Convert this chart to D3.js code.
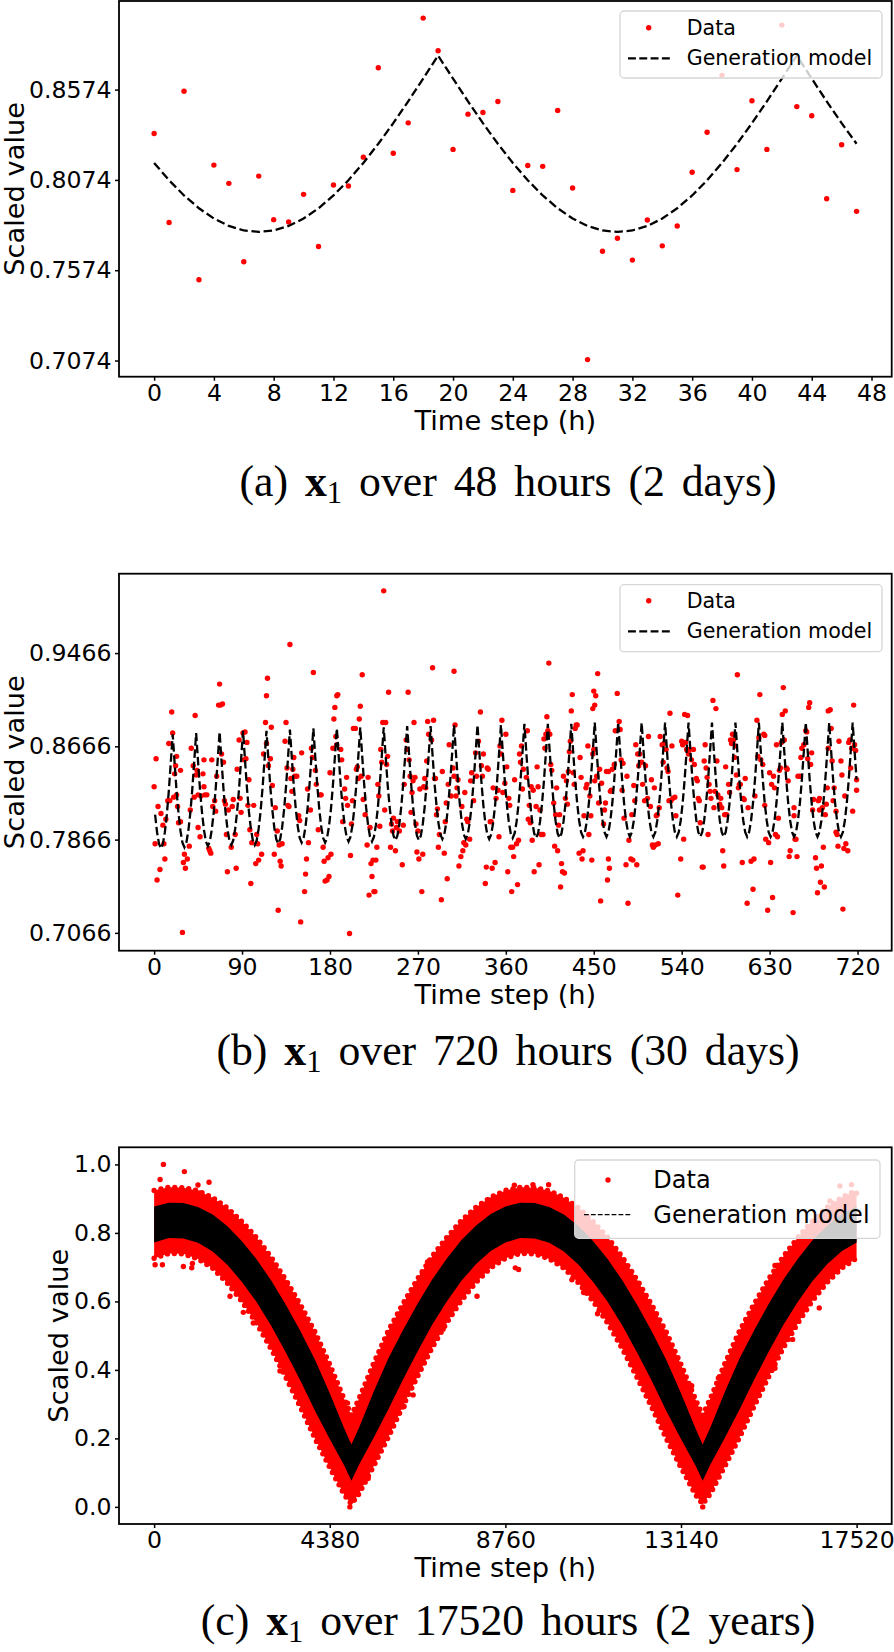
<!DOCTYPE html>
<html><head><meta charset="utf-8">
<script src="https://cdn.jsdelivr.net/npm/d3@7"></script>
<style>body{margin:0;background:#fff} svg{display:block}</style>
</head><body>
<svg id="chart" width="894" height="1652"></svg>
<script>
// ---------------- Panel (a): 48 hours ----------------
const aTicksX = [0,4,8,12,16,20,24,28,32,36,40,44,48];
const aTicksY = [0.7074,0.7574,0.8074,0.8574];
const aData = [.8331,.7838,.8565,.7521,.8156,.8055,.7621,.8095,.7854,.7841,.7994,.7705,.8046,.8040,.8200,.8695,.8222,.8390,.8970,.8789,.8243,.8438,.8447,.8508,.8016,.8154,.8149,.8458,.8029,.7079,.7679,.7751,.7630,.7852,.7709,.7819,.8116,.8338,.8653,.8131,.8512,.8243,.8931,.8480,.8429,.7970,.8269,.7900];
const aModel = [.8168,.8072,.7988,.7917,.7860,.7819,.7794,.7786,.7794,.7819,.7860,.7917,.7988,.8072,.8168,.8274,.8388,.8509,.8635,.8762,.8635,.8509,.8388,.8274,.8168,.8072,.7988,.7917,.7860,.7819,.7794,.7786,.7794,.7819,.7860,.7917,.7988,.8072,.8168,.8274,.8388,.8509,.8635,.8762,.8635,.8509,.8388,.8274];

// ---------------- Panel (b): 720 hours ----------------
const bTicksX = [0,90,180,270,360,450,540,630,720];
const bTicksY = [0.7066,0.7866,0.8666,0.9466];
const bHour = [0,2,4,1,3,6,7,10,9,11,12,14,15,16,18,19,20,21,22,23,23,24,25,27,27,29,30,31,32,34,36,37,38,40,41,42,43,44,45,45,47,48,50,51,51,52,54,56,57,58,59,60,62,63,64,66,68,69,70,71,72,67,73,74,75,76,79,80,81,83,84,85,87,88,89,91,92,
139,116,115,163,213,187,188,185,184,211,210,204,206,114,120,135,93,95,94,97,96,102,98,100,105,106,99,127,150,200,154,155,156,130,129,123,107,104,110,175,177,179,174,178,181,201,220,225,223,222,224,218,
112,115,117,119,121,124,126,128,131,134,136,137,138,140,142,143,144,146,141,148,149,151,157,158,160,161,162,165,166,168,170,171,173,180,183,186,187,191,192,195,196,197,198,193,202,203,207,208,209,212,214,216,219,221,
235,285,307,240,260,334,234,237,266,280,286,308,356,226,274,294,300,339,346,349,340,254,227,228,242,247,269,271,275,291,297,312,314,316,317,319,323,353,
229,230,231,232,233,238,239,236,243,244,245,248,249,251,255,256,258,259,261,262,263,264,265,267,268,270,272,276,277,278,279,281,284,287,288,289,290,292,295,298,299,301,302,304,306,307,309,310,311,315,318,320,321,324,325,327,329,330,332,335,336,337,341,342,344,345,347,350,352,354,355,357,359,
404,454,428,450,452,474,427,451,449,402,366,372,389,394,416,417,418,420,435,439,438,448,457,464,466,465,485,483,488,490,362,368,367,371,373,365,387,410,413,
360,361,363,364,369,374,375,376,377,378,381,382,383,384,385,386,388,391,392,393,395,396,398,399,400,401,403,405,406,407,409,411,412,414,415,419,421,422,423,424,425,426,429,430,431,432,433,436,437,440,442,443,444,445,447,446,449,450,451,453,455,456,458,460,461,462,463,465,467,468,469,471,472,476,477,478,479,480,481,484,486,489,492,491,
597,620,572,575,528,543,546,617,592,593,536,607,613,561,562,583,602,611,614,582,539,494,510,511,516,513,542,567,626,
493,495,496,497,499,500,502,503,505,506,508,509,512,514,515,517,518,520,521,522,524,525,526,527,529,530,531,533,534,540,541,544,545,547,548,550,552,553,555,556,557,558,559,563,564,565,566,568,569,570,573,574,576,577,579,580,581,584,585,586,588,589,590,591,594,595,596,598,599,600,603,604,605,608,615,618,619,621,623,624,625,
644,671,670,716,690,692,643,646,625,654,628,633,705,679,686,682,678,683,677,631,651,650,658,685,700,708,710,706,629,638,636,656,657,698,699,
630,632,634,635,637,639,640,641,642,645,647,648,649,655,655,659,661,662,663,665,667,668,669,672,673,674,675,680,681,681,684,687,688,689,690,693,694,695,696,698,701,703,704,707,711,712,713,714,717,718,719,719,715];
const bValue = [.832,.856,.815,.783,.752,.761,.809,.783,.799,.770,.804,.820,.869,.820,.896,.878,.823,.843,.850,.858,.825,.815,.801,.846,.802,.707,.767,.774,.762,.770,.781,.812,.865,.850,.823,.893,.842,.846,.797,.825,.789,.824,.843,.832,.855,.825,.825,.779,.777,.775,.855,.815,.820,.811,.841,.902,.902,.860,.903,.853,.820,.920,.817,.791,.759,.812,.780,.815,.821,.791,.762,.847,.872,.822,.810,.878,.855,
.954,.925,.910,.930,.928,.910,.911,.900,.890,.901,.890,.882,.882,.887,.883,.887,.879,.870,.856,.838,.816,.816,.795,.784,.791,.783,.749,.726,.716,.706,.742,.757,.770,.764,.768,.774,.769,.766,.774,.751,.752,.755,.768,.771,.774,.773,.739,.742,.755,.766,.769,.782,
.860,.869,.850,.856,.833,.814,.794,.782,.783,.871,.848,.816,.815,.839,.847,.857,.841,.841,.828,.807,.803,.861,.830,.784,.812,.865,.857,.846,.834,.795,.825,.825,.780,.844,.865,.875,.868,.864,.855,.830,.822,.840,.816,.802,.800,.820,.847,.849,.839,.841,.821,.808,.840,.797,
1.000,.934,.931,.913,.913,.896,.887,.887,.887,.888,.889,.885,.889,.742,.742,.735,.753,.749,.762,.767,.763,.765,.769,.780,.780,.777,.776,.770,.774,.780,.775,.764,.772,.777,.784,.782,.787,.789,
.834,.824,.798,.864,.853,.851,.858,.812,.800,.794,.805,.797,.802,.794,.799,.834,.872,.864,.855,.841,.810,.827,.837,.840,.800,.794,.830,.832,.839,.831,.854,.877,.872,.839,.839,.808,.813,.791,.845,.802,.818,.834,.868,.824,.848,.841,.824,.831,.838,.815,.827,.804,.802,.837,.844,.820,.861,.841,.871,.850,.841,.860,.848,.847,.802,.802,.831,.822,.829,.867,.860,.827,.835,
.938,.929,.911,.914,.910,.912,.897,.902,.899,.892,.742,.748,.759,.765,.746,.766,.759,.758,.775,.777,.770,.769,.734,.752,.762,.770,.732,.765,.770,.769,.759,.772,.780,.783,.786,.780,.786,.781,.777,
.877,.849,.822,.816,.838,.860,.853,.867,.830,.847,.840,.880,.804,.816,.801,.832,.829,.815,.849,.832,.812,.791,.791,.873,.865,.877,.880,.877,.851,.846,.818,.808,.831,.799,.808,.841,.822,.837,.817,.845,.862,.871,.844,.834,.882,.885,.885,.857,.840,.807,.831,.834,.867,.791,.807,.824,.860,.864,.837,.841,.818,.847,.835,.800,.812,.818,.845,.845,.828,.829,.847,.851,.880,.888,.881,.855,.829,.852,.805,.841,.786,.808,.820,.833,
.928,.911,.906,.899,.895,.894,.893,.889,.877,.872,.739,.732,.744,.763,.763,.764,.767,.768,.770,.777,.770,.765,.782,.780,.783,.782,.787,.791,.787,
.868,.860,.850,.860,.853,.834,.820,.850,.822,.875,.815,.838,.831,.807,.808,.814,.875,.868,.853,.869,.864,.848,.845,.820,.820,.867,.822,.823,.807,.871,.868,.870,.864,.860,.864,.855,.864,.851,.839,.837,.822,.820,.801,.854,.868,.848,.840,.834,.828,.822,.814,.828,.854,.825,.817,.822,.814,.808,.849,.808,.834,.827,.872,.869,.857,.867,.842,.831,.834,.834,.822,.821,.839,.814,.824,.858,.874,.855,.851,.877,.816,
.917,.904,.900,.902,.897,.898,.894,.897,.876,.724,.726,.737,.727,.741,.746,.750,.762,.764,.771,.767,.777,.772,.772,.780,.781,.783,.777,.779,.784,.789,.791,.787,.787,.793,.791,
.844,.834,.841,.831,.868,.805,.846,.848,.870,.872,.848,.847,.837,.814,.807,.841,.841,.857,.865,.868,.880,.879,.856,.851,.861,.812,.821,.820,.812,.822,.814,.808,.817,.831,.865,.882,.854,.820,.831,.811,.871,.854,.842,.824,.870,.872,.848,.865,.868,.863,.838,.829,.811];
// generation model, hours 1,3,5,...,719 (odd hours)
const bModel = [
.808,.793,.783,.779,.783,.793,.808,.828,.852,.877,.852,.828,
.809,.794,.784,.780,.784,.794,.809,.829,.853,.878,.853,.829,
.810,.795,.785,.781,.785,.795,.810,.830,.854,.879,.854,.830,
.811,.796,.786,.782,.786,.796,.811,.831,.855,.880,.855,.831,
.811,.796,.786,.782,.786,.796,.811,.831,.855,.880,.855,.831,
.812,.797,.787,.783,.787,.797,.812,.832,.856,.881,.856,.832,
.813,.798,.788,.784,.788,.798,.813,.833,.857,.882,.857,.833,
.813,.798,.788,.784,.788,.798,.813,.833,.857,.882,.857,.833,
.814,.799,.789,.785,.789,.799,.814,.834,.858,.883,.858,.834,
.814,.799,.789,.785,.789,.799,.814,.834,.858,.883,.858,.834,
.815,.800,.790,.786,.790,.800,.815,.835,.859,.884,.859,.835,
.815,.800,.790,.786,.790,.800,.815,.835,.859,.884,.859,.835,
.816,.801,.791,.787,.791,.801,.816,.836,.860,.885,.860,.836,
.816,.801,.791,.787,.791,.801,.816,.836,.860,.885,.860,.836,
.816,.801,.791,.787,.791,.801,.816,.836,.860,.885,.860,.836,
.817,.802,.792,.788,.792,.802,.817,.837,.861,.886,.861,.837,
.817,.802,.792,.788,.792,.802,.817,.837,.861,.886,.861,.837,
.817,.802,.792,.788,.792,.802,.817,.837,.861,.886,.861,.837,
.818,.803,.793,.789,.793,.803,.818,.838,.862,.887,.862,.838,
.818,.803,.793,.789,.793,.803,.818,.838,.862,.887,.862,.838,
.818,.803,.793,.789,.793,.803,.818,.838,.862,.887,.862,.838,
.818,.803,.793,.789,.793,.803,.818,.838,.862,.887,.862,.838,
.818,.803,.793,.789,.793,.803,.818,.838,.862,.887,.862,.838,
.818,.803,.793,.789,.793,.803,.818,.838,.862,.887,.862,.838,
.818,.803,.793,.789,.793,.803,.818,.838,.862,.887,.862,.838,
.818,.803,.793,.789,.793,.803,.818,.838,.862,.887,.862,.838,
.818,.803,.793,.789,.793,.803,.818,.838,.862,.887,.862,.838,
.818,.803,.793,.789,.793,.803,.818,.838,.862,.887,.862,.838,
.818,.803,.793,.789,.793,.803,.818,.838,.862,.887,.862,.838,
.818,.803,.793,.789,.793,.803,.818,.838,.862,.887,.862,.838];

// ---------------- Panel (c): 17520 hours (envelopes of the dense clouds) ----------------
const cTicksX = [0,4380,8760,13140,17520];
const cTicksY = [0,0.2,0.4,0.6,0.8,1.0];
const cTime = [0,365,730,1095,1460,1825,2190,2555,2920,3285,3650,4015,4380,4745,4920,5110,5475,5840,6205,6570,6935,7300,7665,8030,8395,8760,9125,9490,9855,10220,10585,10950,11315,11680,12045,12410,12775,13140,13505,13680,13870,14235,14600,14965,15330,15695,16060,16425,16790,17155,17519];
const cModelHigh = [.877,.888,.887,.876,.854,.820,.776,.723,.661,.590,.513,.429,.332,.228,.182,.231,.336,.433,.516,.593,.664,.725,.779,.822,.855,.877,.888,.887,.876,.854,.820,.776,.723,.661,.590,.513,.429,.332,.228,.182,.231,.336,.433,.516,.593,.664,.725,.779,.822,.855,.877];
const cModelLow = [.772,.785,.784,.771,.746,.707,.657,.598,.529,.451,.368,.280,.198,.120,.076,.123,.202,.284,.371,.454,.532,.600,.660,.709,.747,.772,.785,.784,.771,.746,.707,.657,.598,.529,.451,.368,.280,.198,.120,.076,.123,.202,.284,.371,.454,.532,.600,.660,.709,.747,.772];
const cDataHigh = [.924,.933,.932,.923,.903,.873,.833,.786,.729,.663,.590,.510,.416,.313,.267,.316,.419,.514,.593,.666,.732,.787,.836,.875,.904,.924,.933,.932,.923,.903,.873,.833,.786,.729,.663,.590,.510,.416,.313,.267,.316,.419,.514,.593,.666,.732,.787,.836,.875,.904,.924];
const cDataLow = [.726,.740,.739,.724,.697,.654,.600,.536,.461,.378,.291,.199,.115,.035,.008,.038,.119,.203,.294,.381,.465,.538,.603,.656,.698,.726,.740,.739,.724,.697,.654,.600,.536,.461,.378,.291,.199,.115,.035,.008,.038,.119,.203,.294,.381,.465,.538,.603,.656,.698,.726];
const cOutT = [232,755,1370,1129,149,1094,25,207,730,938,955,1893,2225,2474,3138,3321,3943,4824,5363,5338,5711,6234,6459,6692,6817,7206,4882,4965,8984,9448,9838,8344,7390,8053,9008,9091,10419,10710,11059,11980,13134,13408,13117,13682,14072,15484,15924,16588,15484,17103,17392,16854,17517];
const cOutV = [1.0,.979,.948,.917,.956,.940,.707,.707,.702,.698,.711,.615,.568,.537,.397,.652,.509,.303,.343,.083,.187,.293,.327,.681,.715,.519,0,.020,.939,.941,.941,.896,.781,.615,.698,.693,.663,.626,.564,.644,.327,.354,.132,0,.376,.405,.489,.581,.705,.937,.941,.893,.916];

const captions = [
  ["(a) ", " over 48 hours (2 days)"],
  ["(b) ", " over 720 hours (30 days)"],
  ["(c) ", " over 17520 hours (2 years)"]
];
const legendLabels = ["Data", "Generation model"];

// ---------------- drawing ----------------
const svg = d3.select("#chart");
const X0 = 119, X1 = 891.7;
const SANS = "'DejaVu Sans', sans-serif";
const RED = "#ff0000";
const R = 2.7;

function pad(ext){ const m = (ext[1]-ext[0])*0.05; return [ext[0]-m, ext[1]+m]; }

function panel(id, top, bottom, xExt, yExt){
  const x = d3.scaleLinear().domain(pad(xExt)).range([X0, X1]);
  const y = d3.scaleLinear().domain(pad(yExt)).range([bottom, top]);
  svg.append("clipPath").attr("id","clip"+id).append("rect")
    .attr("x",X0).attr("y",top).attr("width",X1-X0).attr("height",bottom-top);
  const plot = svg.append("g").attr("clip-path",`url(#clip${id})`);
  return {x, y, plot, top, bottom};
}

function axes(p, xTicks, yTicks, yFmt, yLabelX){
  const gx = svg.append("g").attr("transform",`translate(0,${p.bottom})`)
    .call(d3.axisBottom(p.x).tickValues(xTicks).tickSize(4).tickPadding(3.5).tickFormat(d3.format("d")));
  const gy = svg.append("g").attr("transform",`translate(${X0},0)`)
    .call(d3.axisLeft(p.y).tickValues(yTicks).tickSize(4).tickPadding(3.5).tickFormat(d3.format(yFmt)));
  [gx, gy].forEach(g => {
    g.select(".domain").remove();
    g.attr("font-family", SANS).attr("font-size", 23.6);
    g.selectAll("text").attr("fill","#000");
    g.selectAll("line").attr("stroke","#000").attr("stroke-width",1.5);
  });
  svg.append("rect").attr("x",X0).attr("y",p.top).attr("width",X1-X0).attr("height",p.bottom-p.top)
    .attr("fill","none").attr("stroke","#000").attr("stroke-width",1.8);
  svg.append("text").attr("x",(X0+X1)/2).attr("y",p.bottom+53.3).attr("text-anchor","middle")
    .attr("font-family",SANS).attr("font-size",27.3).text("Time step (h)");
  svg.append("text").attr("transform",`translate(${yLabelX},${(p.top+p.bottom)/2}) rotate(-90)`)
    .attr("text-anchor","middle").attr("font-family",SANS).attr("font-size",27.3).text("Scaled value");
}

function legend(L){
  const g = svg.append("g");
  g.append("rect").attr("x",L.bx).attr("y",L.by).attr("width",L.bw).attr("height",L.bh).attr("rx",4)
    .attr("fill","#fff").attr("fill-opacity",0.8).attr("stroke","#d6d6d6").attr("stroke-width",1.3);
  g.append("circle").attr("cx",L.mx).attr("cy",L.my).attr("r",R).attr("fill",RED);
  g.append("line").attr("x1",L.lx1).attr("x2",L.lx2).attr("y1",L.ly).attr("y2",L.ly)
    .attr("stroke","#000").attr("stroke-width",L.lw).attr("stroke-dasharray",L.dash);
  g.append("text").attr("x",L.tx).attr("y",L.ty1).attr("font-family",SANS).attr("font-size",L.fs).text(legendLabels[0]);
  g.append("text").attr("x",L.tx).attr("y",L.ty2).attr("font-family",SANS).attr("font-size",L.fs).text(legendLabels[1]);
}

// ---- (a)
const pa = panel("a", 1, 376.7, [0, aData.length-1], d3.extent(aData));
pa.plot.selectAll("circle").data(aData).join("circle")
  .attr("cx",(d,i)=>pa.x(i)).attr("cy",d=>pa.y(d)).attr("r",R).attr("fill",RED);
pa.plot.append("path").datum(aModel)
  .attr("d", d3.line().x((d,i)=>pa.x(i)).y(d=>pa.y(d)))
  .attr("fill","none").attr("stroke","#000").attr("stroke-width",2.3).attr("stroke-dasharray","8.5,3.7");
axes(pa, aTicksX, aTicksY, ".4f", 23.5);
legend({bx:620,by:11,bw:262,bh:67,mx:648.7,my:27.7,lx1:628,lx2:670,ly:58.3,lw:2.2,dash:"7.9,3.4",tx:686.7,ty1:35,ty2:65,fs:20.6});

// ---- (b)
const pb = panel("b", 573.7, 950.7, [0, 719], d3.extent(bValue));
pb.plot.selectAll("circle").data(bValue).join("circle")
  .attr("cx",(d,i)=>pb.x(bHour[i])).attr("cy",d=>pb.y(d)).attr("r",R).attr("fill",RED);
pb.plot.append("path").datum(bModel)
  .attr("d", d3.line().x((d,i)=>pb.x(2*i+1)).y(d=>pb.y(d)))
  .attr("fill","none").attr("stroke","#000").attr("stroke-width",2.3).attr("stroke-dasharray","8.5,3.7");
axes(pb, bTicksX, bTicksY, ".4f", 23.5);
legend({bx:620,by:584.7,bw:262,bh:67,mx:648.7,my:600.7,lx1:628,lx2:670,ly:631.3,lw:2.2,dash:"7.9,3.4",tx:686.7,ty1:608,ty2:638,fs:20.6});

// ---- (c)
const pc = panel("c", 1147.3, 1524, [0, 17519], [0, 1]);
const cIdx = d3.range(cTime.length);
pc.plot.append("path").datum(cIdx)
  .attr("d", d3.area().x(i=>pc.x(cTime[i])).y0(i=>pc.y(cDataLow[i])).y1(i=>pc.y(cDataHigh[i])))
  .attr("fill",RED);
[cDataHigh, cDataLow].forEach(arr => {
  pc.plot.append("path").datum(cIdx)
    .attr("d", d3.line().x(i=>pc.x(cTime[i])).y(i=>pc.y(arr[i])))
    .attr("fill","none").attr("stroke",RED).attr("stroke-width",5.4)
    .attr("stroke-linecap","round").attr("stroke-dasharray","0,7");
});
pc.plot.selectAll("circle.o").data(cOutV).join("circle").attr("class","o")
  .attr("cx",(d,i)=>pc.x(cOutT[i])).attr("cy",d=>pc.y(d)).attr("r",R).attr("fill",RED);
pc.plot.append("path").datum(cIdx)
  .attr("d", d3.area().x(i=>pc.x(cTime[i])).y0(i=>pc.y(cModelLow[i])).y1(i=>pc.y(cModelHigh[i])))
  .attr("fill","#000");
axes(pc, cTicksX, cTicksY, ".1f", 68);
legend({bx:574.7,by:1160,bw:305.3,bh:78.3,mx:608,my:1180,lx1:584,lx2:632.3,ly:1214.7,lw:1.3,dash:"4.8,2.1",tx:653.3,ty1:1188.3,ty2:1223.3,fs:24});

// ---- captions
const capY = [496, 1065, 1635];
const WS = 6;
function buildCaption(c, y, fs){
  const t = svg.append("text").attr("x",508).attr("y",y).attr("text-anchor","middle")
    .attr("font-family","'Liberation Serif', 'Times New Roman', serif").attr("font-size",fs)
    .attr("word-spacing", WS).style("white-space","pre");
  t.append("tspan").text(c[0]);
  t.append("tspan").attr("font-weight","bold").text("x");
  t.append("tspan").attr("font-size",fs*0.7).attr("dy",fs*0.16).text("1");
  t.append("tspan").attr("dy",-fs*0.16).text(c[1]);
  return t;
}
const probe = buildCaption(captions[0], -100, 40);
const w40 = probe.node().getComputedTextLength();
probe.remove();
const capFS = 40 * (537 - 6*WS) / (w40 - 6*WS);
captions.forEach((c,k) => buildCaption(c, capY[k], capFS));
</script>
</body></html>
